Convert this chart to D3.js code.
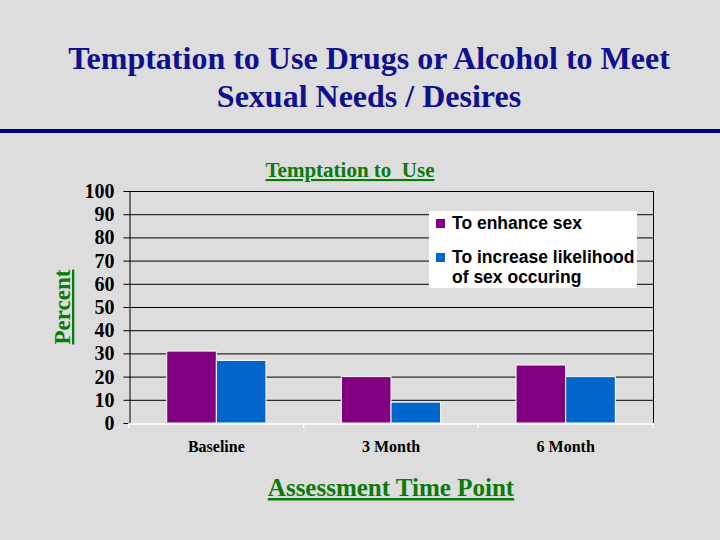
<!DOCTYPE html>
<html lang="en">
  <head>
    <meta charset="utf-8">
    <title>Temptation to Use</title>
    <script src="https://d3js.org/d3.v7.min.js"></script>
    <style>
      body { margin: 0; background: #dddddd; }
    </style>
  </head>
  <body>
    <div id="container"></div>
    <script>
      width = 720;
      height = 540;
      margin = ({top: 191, right: 67, bottom: 117, left: 129});

      categories = ["Baseline", "3 Month", "6 Month"];
      seriesNames = ["To enhance sex", "To increase likelihood of sex occuring"];
      enhance = [31, 20, 25];
      likelihood = [27, 9, 20];
      yTicks = [0, 10, 20, 30, 40, 50, 60, 70, 80, 90, 100];
      colors = ["#800080", "#0066cc"];

      data = categories.map((c, i) => ({cat: c, values: [enhance[i], likelihood[i]]}));

      x = d3.scaleBand()
        .domain(categories)
        .range([margin.left, width - margin.right])
        .paddingInner(0)
        .paddingOuter(0);
      inner = d3.scaleBand()
        .domain(d3.range(seriesNames.length))
        .range([0, x.bandwidth()])
        .paddingOuter(0.76)
        .paddingInner(0);
      y = d3.scaleLinear()
        .domain([0, 100])
        .range([height - margin.bottom, margin.top]);

      serif = "Liberation Serif, Times New Roman, serif";

      svg = d3.select("#container").append("svg")
        .attr("width", width)
        .attr("height", height)
        .style("background", "#dddddd");

      // slide title
      svg.append("text")
        .attr("x", 369).attr("y", 69)
        .attr("text-anchor", "middle")
        .attr("font-family", serif)
        .attr("font-weight", "bold")
        .attr("font-size", 32)
        .attr("fill", "#10108e")
        .text("Temptation to Use Drugs or Alcohol to Meet");
      svg.append("text")
        .attr("x", 369).attr("y", 107)
        .attr("text-anchor", "middle")
        .attr("font-family", serif)
        .attr("font-weight", "bold")
        .attr("font-size", 32)
        .attr("fill", "#10108e")
        .text("Sexual Needs / Desires");
      svg.append("rect")
        .attr("x", 0).attr("y", 129)
        .attr("width", width).attr("height", 4)
        .attr("fill", "#000080");

      // gridlines
      svg.append("g")
        .selectAll("line")
        .data(yTicks.filter(d => d > 0))
        .join("line")
          .attr("x1", margin.left)
          .attr("x2", width - margin.right)
          .attr("y1", d => y(d) + 0.5)
          .attr("y2", d => y(d) + 0.5)
          .attr("stroke", "#000");
      svg.append("line")
        .attr("x1", width - margin.right + 0.5)
        .attr("x2", width - margin.right + 0.5)
        .attr("y1", y(100))
        .attr("y2", y(0))
        .attr("stroke", "#000");

      // bars
      svg.append("g")
        .selectAll("g")
        .data(data)
        .join("g")
          .attr("transform", d => `translate(${x(d.cat)},0)`)
        .selectAll("rect")
        .data(d => d.values)
        .join("rect")
          .attr("x", (d, i) => inner(i))
          .attr("y", d => y(d))
          .attr("width", inner.bandwidth())
          .attr("height", d => y(0) - y(d))
          .attr("fill", (d, i) => colors[i])
          .attr("stroke", "#ffffff")
          .attr("stroke-width", 1);

      // y axis
      svg.append("g")
        .attr("transform", `translate(${margin.left + 0.5},0)`)
        .call(d3.axisLeft(y).tickValues(yTicks).tickSize(6).tickSizeOuter(0))
        .call(g => g.select(".domain").attr("stroke", "#000"))
        .call(g => g.selectAll(".tick line").attr("stroke", "#000"))
        .call(g => g.selectAll(".tick text")
          .attr("x", -15)
          .attr("font-family", serif)
          .attr("font-weight", "bold")
          .attr("font-size", 20)
          .attr("fill", "#000"));

      // x axis
      svg.append("g")
        .attr("transform", `translate(0,${y(0) + 0.5})`)
        .call(d3.axisBottom(x).tickSize(0).tickSizeOuter(0))
        .call(g => g.select(".domain").attr("stroke", "#ffffff").attr("stroke-width", 1.5))
        .call(g => g.selectAll(".tick text")
          .attr("dy", 0)
          .attr("y", 28)
          .attr("font-family", serif)
          .attr("font-weight", "bold")
          .attr("font-size", 16)
          .attr("fill", "#000"));
      svg.append("g")
        .selectAll("line")
        .data([categories[0], ...categories])
        .join("line")
          .attr("x1", (d, i) => i === 0 ? x(d) : x(d) + x.bandwidth())
          .attr("x2", (d, i) => i === 0 ? x(d) : x(d) + x.bandwidth())
          .attr("y1", y(0))
          .attr("y2", y(0) + 5)
          .attr("stroke", "#ffffff")
          .attr("stroke-width", 1.5);

      // chart title and axis labels
      green = "#0a7a0a";
      svg.append("text")
        .attr("x", 350).attr("y", 177)
        .attr("text-anchor", "middle")
        .attr("font-family", serif)
        .attr("font-weight", "bold")
        .attr("font-size", 21)
        .attr("fill", green)
        .attr("text-decoration", "underline")
        .style("white-space", "pre")
        .text("Temptation to  Use");
      svg.append("text")
        .attr("transform", `translate(70,${(y(0) + y(100)) / 2}) rotate(-90)`)
        .attr("text-anchor", "middle")
        .attr("font-family", serif)
        .attr("font-weight", "bold")
        .attr("font-size", 23)
        .attr("fill", green)
        .attr("text-decoration", "underline")
        .text("Percent");
      svg.append("text")
        .attr("x", 391).attr("y", 496)
        .attr("text-anchor", "middle")
        .attr("font-family", serif)
        .attr("font-weight", "bold")
        .attr("font-size", 25)
        .attr("fill", green)
        .attr("text-decoration", "underline")
        .text("Assessment Time Point");

      // legend
      legend = svg.append("g").attr("transform", "translate(429,211)");
      legend.append("rect")
        .attr("width", 208).attr("height", 77)
        .attr("fill", "#ffffff");
      legendLines = [["To enhance sex"], ["To increase likelihood", "of sex occuring"]];
      legendY = [18, 52];
      legendLines.forEach((lines, i) => {
        legend.append("rect")
          .attr("x", 7).attr("y", legendY[i] - 10)
          .attr("width", 9).attr("height", 9)
          .attr("fill", colors[i]);
        lines.forEach((t, j) => {
          legend.append("text")
            .attr("x", 23).attr("y", legendY[i] + j * 20)
            .attr("font-family", "Liberation Sans, Arial, sans-serif")
            .attr("font-weight", "bold")
            .attr("font-size", 17.5)
            .attr("fill", "#000")
            .text(t);
        });
      });
    </script>
  </body>
</html>
